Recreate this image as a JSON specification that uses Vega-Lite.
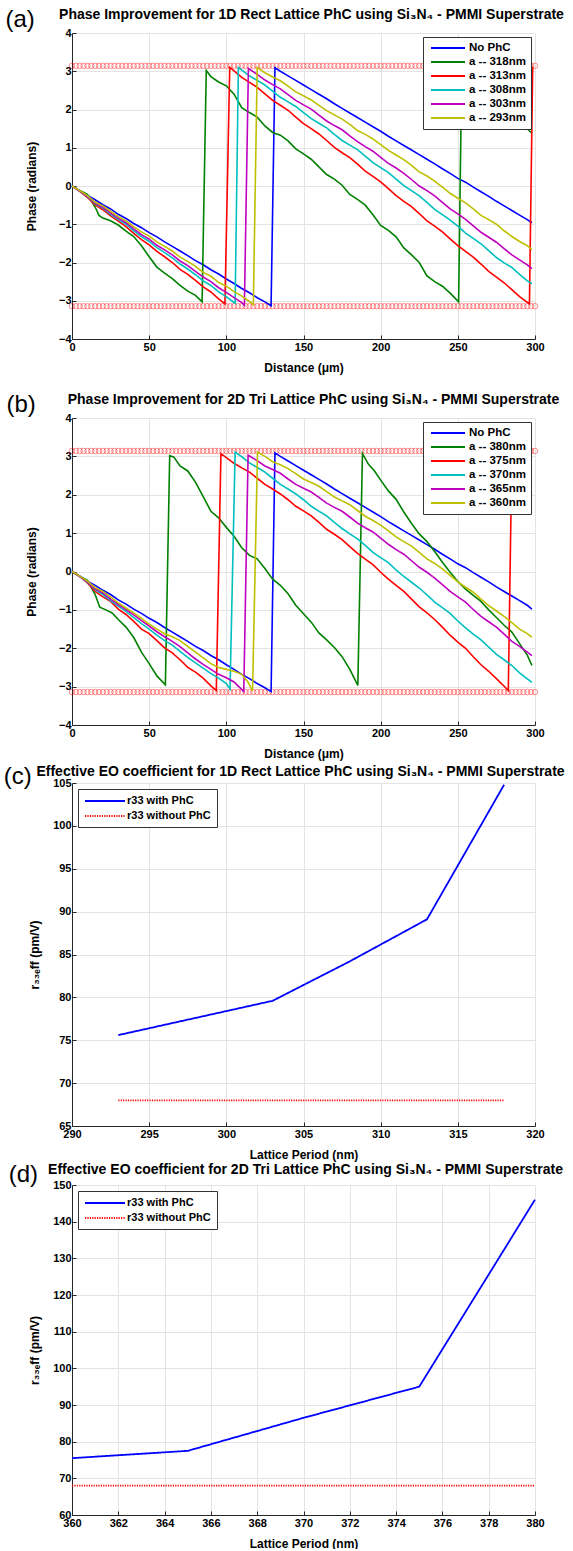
{
"$schema":"https://vega.github.io/schema/vega-lite/v6.json",
"background":"white",
"padding":{"left":3,"top":8,"right":0,"bottom":0},
"config":{
 "font":"Liberation Sans",
 "view":{"stroke":null},
 "title":{"font":"Liberation Sans","fontSize":14,"fontWeight":"bold","color":"#000000","anchor":"middle"},
 "axis":{"grid":true,"gridColor":"#e4e4e4","domainColor":"#262626","tickColor":"#262626","tickSize":-4,"labelFont":"Liberation Sans","labelFontSize":11,"labelFontWeight":"bold","labelColor":"#000000","titleFont":"Liberation Sans","titleFontSize":12,"titleFontWeight":"bold","titleColor":"#000000","labelFlush":false,"labelOverlap":false,"labelPadding":5},
 "axisX":{"titlePadding":10,"labelPadding":6},
 "legend":{"labelFont":"Liberation Sans","labelFontSize":11.5,"labelFontWeight":"bold","labelColor":"#000000","fillColor":"#ffffff","strokeColor":"#333333","cornerRadius":0,"labelLimit":300}
},
"datasets":{
"circ":[{"d":0},{"d":2.5},{"d":5},{"d":7.5},{"d":10},{"d":12.5},{"d":15},{"d":17.5},{"d":20},{"d":22.5},{"d":25},{"d":27.5},{"d":30},{"d":32.5},{"d":35},{"d":37.5},{"d":40},{"d":42.5},{"d":45},{"d":47.5},{"d":50},{"d":52.5},{"d":55},{"d":57.5},{"d":60},{"d":62.5},{"d":65},{"d":67.5},{"d":70},{"d":72.5},{"d":75},{"d":77.5},{"d":80},{"d":82.5},{"d":85},{"d":87.5},{"d":90},{"d":92.5},{"d":95},{"d":97.5},{"d":100},{"d":102.5},{"d":105},{"d":107.5},{"d":110},{"d":112.5},{"d":115},{"d":117.5},{"d":120},{"d":122.5},{"d":125},{"d":127.5},{"d":130},{"d":132.5},{"d":135},{"d":137.5},{"d":140},{"d":142.5},{"d":145},{"d":147.5},{"d":150},{"d":152.5},{"d":155},{"d":157.5},{"d":160},{"d":162.5},{"d":165},{"d":167.5},{"d":170},{"d":172.5},{"d":175},{"d":177.5},{"d":180},{"d":182.5},{"d":185},{"d":187.5},{"d":190},{"d":192.5},{"d":195},{"d":197.5},{"d":200},{"d":202.5},{"d":205},{"d":207.5},{"d":210},{"d":212.5},{"d":215},{"d":217.5},{"d":220},{"d":222.5},{"d":225},{"d":227.5},{"d":230},{"d":232.5},{"d":235},{"d":237.5},{"d":240},{"d":242.5},{"d":245},{"d":247.5},{"d":250},{"d":252.5},{"d":255},{"d":257.5},{"d":260},{"d":262.5},{"d":265},{"d":267.5},{"d":270},{"d":272.5},{"d":275},{"d":277.5},{"d":280},{"d":282.5},{"d":285},{"d":287.5},{"d":290},{"d":292.5},{"d":295},{"d":297.5},{"d":300}],
"pa":[
{"s":"No PhC","d":0,"p":0},{"s":"No PhC","d":5,"p":-0.12},{"s":"No PhC","d":10,"p":-0.25},{"s":"No PhC","d":15,"p":-0.36},{"s":"No PhC","d":20,"p":-0.49},{"s":"No PhC","d":25,"p":-0.6},{"s":"No PhC","d":30,"p":-0.74},{"s":"No PhC","d":35,"p":-0.85},{"s":"No PhC","d":40,"p":-0.98},{"s":"No PhC","d":45,"p":-1.09},{"s":"No PhC","d":50,"p":-1.22},{"s":"No PhC","d":55,"p":-1.33},{"s":"No PhC","d":60,"p":-1.46},{"s":"No PhC","d":65,"p":-1.58},{"s":"No PhC","d":70,"p":-1.7},{"s":"No PhC","d":75,"p":-1.82},{"s":"No PhC","d":80,"p":-1.95},{"s":"No PhC","d":85,"p":-2.06},{"s":"No PhC","d":90,"p":-2.19},{"s":"No PhC","d":95,"p":-2.3},{"s":"No PhC","d":100,"p":-2.43},{"s":"No PhC","d":105,"p":-2.55},{"s":"No PhC","d":110,"p":-2.68},{"s":"No PhC","d":115,"p":-2.79},{"s":"No PhC","d":120,"p":-2.92},{"s":"No PhC","d":125,"p":-3.03},{"s":"No PhC","d":129,"p":-3.13},{"s":"No PhC","d":131.5,"p":3.09},{"s":"No PhC","d":135,"p":3.0},{"s":"No PhC","d":140,"p":2.88},{"s":"No PhC","d":145,"p":2.76},{"s":"No PhC","d":150,"p":2.64},{"s":"No PhC","d":155,"p":2.52},{"s":"No PhC","d":160,"p":2.4},{"s":"No PhC","d":165,"p":2.28},{"s":"No PhC","d":170,"p":2.15},{"s":"No PhC","d":175,"p":2.03},{"s":"No PhC","d":180,"p":1.91},{"s":"No PhC","d":185,"p":1.79},{"s":"No PhC","d":190,"p":1.67},{"s":"No PhC","d":195,"p":1.55},{"s":"No PhC","d":200,"p":1.43},{"s":"No PhC","d":205,"p":1.3},{"s":"No PhC","d":210,"p":1.18},{"s":"No PhC","d":215,"p":1.06},{"s":"No PhC","d":220,"p":0.94},{"s":"No PhC","d":225,"p":0.82},{"s":"No PhC","d":230,"p":0.7},{"s":"No PhC","d":235,"p":0.58},{"s":"No PhC","d":240,"p":0.45},{"s":"No PhC","d":245,"p":0.33},{"s":"No PhC","d":250,"p":0.2},{"s":"No PhC","d":255,"p":0.1},{"s":"No PhC","d":260,"p":-0.03},{"s":"No PhC","d":265,"p":-0.15},{"s":"No PhC","d":270,"p":-0.27},{"s":"No PhC","d":275,"p":-0.4},{"s":"No PhC","d":280,"p":-0.52},{"s":"No PhC","d":285,"p":-0.64},{"s":"No PhC","d":290,"p":-0.76},{"s":"No PhC","d":295,"p":-0.88},{"s":"No PhC","d":298,"p":-0.96},
{"s":"a -- 318nm","d":0,"p":0},{"s":"a -- 318nm","d":5,"p":-0.12},{"s":"a -- 318nm","d":10,"p":-0.22},{"s":"a -- 318nm","d":15,"p":-0.55},{"s":"a -- 318nm","d":17.5,"p":-0.77},{"s":"a -- 318nm","d":20,"p":-0.84},{"s":"a -- 318nm","d":25,"p":-0.91},{"s":"a -- 318nm","d":30,"p":-1.02},{"s":"a -- 318nm","d":35,"p":-1.18},{"s":"a -- 318nm","d":40,"p":-1.32},{"s":"a -- 318nm","d":45,"p":-1.56},{"s":"a -- 318nm","d":50,"p":-1.85},{"s":"a -- 318nm","d":55,"p":-2.12},{"s":"a -- 318nm","d":60,"p":-2.28},{"s":"a -- 318nm","d":65,"p":-2.42},{"s":"a -- 318nm","d":70,"p":-2.6},{"s":"a -- 318nm","d":75,"p":-2.75},{"s":"a -- 318nm","d":80,"p":-2.86},{"s":"a -- 318nm","d":84.3,"p":-3.03},{"s":"a -- 318nm","d":87,"p":3.02},{"s":"a -- 318nm","d":90,"p":2.86},{"s":"a -- 318nm","d":95,"p":2.72},{"s":"a -- 318nm","d":100,"p":2.62},{"s":"a -- 318nm","d":105,"p":2.4},{"s":"a -- 318nm","d":110,"p":2.05},{"s":"a -- 318nm","d":115,"p":1.92},{"s":"a -- 318nm","d":120,"p":1.8},{"s":"a -- 318nm","d":125,"p":1.57},{"s":"a -- 318nm","d":130,"p":1.4},{"s":"a -- 318nm","d":135,"p":1.33},{"s":"a -- 318nm","d":140,"p":1.18},{"s":"a -- 318nm","d":145,"p":0.97},{"s":"a -- 318nm","d":150,"p":0.84},{"s":"a -- 318nm","d":155,"p":0.7},{"s":"a -- 318nm","d":160,"p":0.5},{"s":"a -- 318nm","d":165,"p":0.3},{"s":"a -- 318nm","d":170,"p":0.18},{"s":"a -- 318nm","d":175,"p":0.02},{"s":"a -- 318nm","d":180,"p":-0.22},{"s":"a -- 318nm","d":185,"p":-0.35},{"s":"a -- 318nm","d":190,"p":-0.5},{"s":"a -- 318nm","d":195,"p":-0.75},{"s":"a -- 318nm","d":200,"p":-1.03},{"s":"a -- 318nm","d":205,"p":-1.16},{"s":"a -- 318nm","d":210,"p":-1.33},{"s":"a -- 318nm","d":215,"p":-1.62},{"s":"a -- 318nm","d":220,"p":-1.8},{"s":"a -- 318nm","d":225,"p":-2.0},{"s":"a -- 318nm","d":230,"p":-2.35},{"s":"a -- 318nm","d":235,"p":-2.5},{"s":"a -- 318nm","d":240,"p":-2.62},{"s":"a -- 318nm","d":245,"p":-2.8},{"s":"a -- 318nm","d":250.5,"p":-3.03},{"s":"a -- 318nm","d":252.5,"p":3.0},{"s":"a -- 318nm","d":260,"p":2.75},{"s":"a -- 318nm","d":270,"p":2.35},{"s":"a -- 318nm","d":280,"p":2.02},{"s":"a -- 318nm","d":290,"p":1.68},{"s":"a -- 318nm","d":298,"p":1.38},
{"s":"a -- 313nm","d":0,"p":0},{"s":"a -- 313nm","d":5,"p":-0.14},{"s":"a -- 313nm","d":10,"p":-0.3},{"s":"a -- 313nm","d":15,"p":-0.49},{"s":"a -- 313nm","d":20,"p":-0.62},{"s":"a -- 313nm","d":25,"p":-0.78},{"s":"a -- 313nm","d":30,"p":-0.92},{"s":"a -- 313nm","d":35,"p":-1.06},{"s":"a -- 313nm","d":40,"p":-1.24},{"s":"a -- 313nm","d":45,"p":-1.4},{"s":"a -- 313nm","d":50,"p":-1.54},{"s":"a -- 313nm","d":55,"p":-1.71},{"s":"a -- 313nm","d":60,"p":-1.85},{"s":"a -- 313nm","d":65,"p":-2.0},{"s":"a -- 313nm","d":70,"p":-2.18},{"s":"a -- 313nm","d":75,"p":-2.31},{"s":"a -- 313nm","d":80,"p":-2.47},{"s":"a -- 313nm","d":85,"p":-2.64},{"s":"a -- 313nm","d":90,"p":-2.77},{"s":"a -- 313nm","d":95,"p":-2.95},{"s":"a -- 313nm","d":99.1,"p":-3.08},{"s":"a -- 313nm","d":102.2,"p":3.1},{"s":"a -- 313nm","d":105,"p":3.01},{"s":"a -- 313nm","d":110,"p":2.84},{"s":"a -- 313nm","d":115,"p":2.71},{"s":"a -- 313nm","d":120,"p":2.58},{"s":"a -- 313nm","d":125,"p":2.41},{"s":"a -- 313nm","d":130,"p":2.24},{"s":"a -- 313nm","d":135,"p":2.11},{"s":"a -- 313nm","d":140,"p":1.98},{"s":"a -- 313nm","d":145,"p":1.8},{"s":"a -- 313nm","d":150,"p":1.63},{"s":"a -- 313nm","d":155,"p":1.5},{"s":"a -- 313nm","d":160,"p":1.36},{"s":"a -- 313nm","d":165,"p":1.19},{"s":"a -- 313nm","d":170,"p":1.01},{"s":"a -- 313nm","d":175,"p":0.87},{"s":"a -- 313nm","d":180,"p":0.74},{"s":"a -- 313nm","d":185,"p":0.57},{"s":"a -- 313nm","d":190,"p":0.39},{"s":"a -- 313nm","d":195,"p":0.25},{"s":"a -- 313nm","d":200,"p":0.11},{"s":"a -- 313nm","d":205,"p":-0.07},{"s":"a -- 313nm","d":210,"p":-0.25},{"s":"a -- 313nm","d":215,"p":-0.4},{"s":"a -- 313nm","d":220,"p":-0.54},{"s":"a -- 313nm","d":225,"p":-0.72},{"s":"a -- 313nm","d":230,"p":-0.91},{"s":"a -- 313nm","d":235,"p":-1.05},{"s":"a -- 313nm","d":240,"p":-1.2},{"s":"a -- 313nm","d":245,"p":-1.38},{"s":"a -- 313nm","d":250,"p":-1.56},{"s":"a -- 313nm","d":255,"p":-1.71},{"s":"a -- 313nm","d":260,"p":-1.86},{"s":"a -- 313nm","d":265,"p":-2.04},{"s":"a -- 313nm","d":270,"p":-2.23},{"s":"a -- 313nm","d":275,"p":-2.38},{"s":"a -- 313nm","d":280,"p":-2.53},{"s":"a -- 313nm","d":285,"p":-2.71},{"s":"a -- 313nm","d":290,"p":-2.89},{"s":"a -- 313nm","d":296.4,"p":-3.08},{"s":"a -- 313nm","d":298.5,"p":3.12},
{"s":"a -- 308nm","d":0,"p":0},{"s":"a -- 308nm","d":5,"p":-0.13},{"s":"a -- 308nm","d":10,"p":-0.28},{"s":"a -- 308nm","d":15,"p":-0.46},{"s":"a -- 308nm","d":20,"p":-0.58},{"s":"a -- 308nm","d":25,"p":-0.74},{"s":"a -- 308nm","d":30,"p":-0.87},{"s":"a -- 308nm","d":35,"p":-1.0},{"s":"a -- 308nm","d":40,"p":-1.17},{"s":"a -- 308nm","d":45,"p":-1.32},{"s":"a -- 308nm","d":50,"p":-1.45},{"s":"a -- 308nm","d":55,"p":-1.61},{"s":"a -- 308nm","d":60,"p":-1.74},{"s":"a -- 308nm","d":65,"p":-1.88},{"s":"a -- 308nm","d":70,"p":-2.04},{"s":"a -- 308nm","d":75,"p":-2.17},{"s":"a -- 308nm","d":80,"p":-2.32},{"s":"a -- 308nm","d":85,"p":-2.48},{"s":"a -- 308nm","d":90,"p":-2.6},{"s":"a -- 308nm","d":95,"p":-2.77},{"s":"a -- 308nm","d":100,"p":-2.89},{"s":"a -- 308nm","d":105.7,"p":-3.07},{"s":"a -- 308nm","d":107.8,"p":3.1},{"s":"a -- 308nm","d":110,"p":3.03},{"s":"a -- 308nm","d":115,"p":2.88},{"s":"a -- 308nm","d":120,"p":2.76},{"s":"a -- 308nm","d":125,"p":2.64},{"s":"a -- 308nm","d":130,"p":2.48},{"s":"a -- 308nm","d":135,"p":2.32},{"s":"a -- 308nm","d":140,"p":2.2},{"s":"a -- 308nm","d":145,"p":2.08},{"s":"a -- 308nm","d":150,"p":1.92},{"s":"a -- 308nm","d":155,"p":1.76},{"s":"a -- 308nm","d":160,"p":1.64},{"s":"a -- 308nm","d":165,"p":1.52},{"s":"a -- 308nm","d":170,"p":1.35},{"s":"a -- 308nm","d":175,"p":1.19},{"s":"a -- 308nm","d":180,"p":1.07},{"s":"a -- 308nm","d":185,"p":0.95},{"s":"a -- 308nm","d":190,"p":0.78},{"s":"a -- 308nm","d":195,"p":0.61},{"s":"a -- 308nm","d":200,"p":0.48},{"s":"a -- 308nm","d":205,"p":0.35},{"s":"a -- 308nm","d":210,"p":0.18},{"s":"a -- 308nm","d":215,"p":0.01},{"s":"a -- 308nm","d":220,"p":-0.12},{"s":"a -- 308nm","d":225,"p":-0.26},{"s":"a -- 308nm","d":230,"p":-0.43},{"s":"a -- 308nm","d":235,"p":-0.61},{"s":"a -- 308nm","d":240,"p":-0.75},{"s":"a -- 308nm","d":245,"p":-0.89},{"s":"a -- 308nm","d":250,"p":-1.05},{"s":"a -- 308nm","d":255,"p":-1.23},{"s":"a -- 308nm","d":260,"p":-1.37},{"s":"a -- 308nm","d":265,"p":-1.51},{"s":"a -- 308nm","d":270,"p":-1.69},{"s":"a -- 308nm","d":275,"p":-1.87},{"s":"a -- 308nm","d":280,"p":-2.01},{"s":"a -- 308nm","d":285,"p":-2.13},{"s":"a -- 308nm","d":290,"p":-2.31},{"s":"a -- 308nm","d":295,"p":-2.48},{"s":"a -- 308nm","d":298,"p":-2.55},
{"s":"a -- 303nm","d":0,"p":0},{"s":"a -- 303nm","d":5,"p":-0.13},{"s":"a -- 303nm","d":10,"p":-0.27},{"s":"a -- 303nm","d":15,"p":-0.44},{"s":"a -- 303nm","d":20,"p":-0.56},{"s":"a -- 303nm","d":25,"p":-0.71},{"s":"a -- 303nm","d":30,"p":-0.84},{"s":"a -- 303nm","d":35,"p":-0.96},{"s":"a -- 303nm","d":40,"p":-1.12},{"s":"a -- 303nm","d":45,"p":-1.27},{"s":"a -- 303nm","d":50,"p":-1.39},{"s":"a -- 303nm","d":55,"p":-1.55},{"s":"a -- 303nm","d":60,"p":-1.67},{"s":"a -- 303nm","d":65,"p":-1.8},{"s":"a -- 303nm","d":70,"p":-1.96},{"s":"a -- 303nm","d":75,"p":-2.08},{"s":"a -- 303nm","d":80,"p":-2.23},{"s":"a -- 303nm","d":85,"p":-2.38},{"s":"a -- 303nm","d":90,"p":-2.5},{"s":"a -- 303nm","d":95,"p":-2.66},{"s":"a -- 303nm","d":100,"p":-2.78},{"s":"a -- 303nm","d":105,"p":-2.92},{"s":"a -- 303nm","d":110,"p":-3.05},{"s":"a -- 303nm","d":111.7,"p":-3.12},{"s":"a -- 303nm","d":114.3,"p":3.07},{"s":"a -- 303nm","d":120,"p":2.92},{"s":"a -- 303nm","d":125,"p":2.77},{"s":"a -- 303nm","d":130,"p":2.65},{"s":"a -- 303nm","d":135,"p":2.54},{"s":"a -- 303nm","d":140,"p":2.39},{"s":"a -- 303nm","d":145,"p":2.24},{"s":"a -- 303nm","d":150,"p":2.12},{"s":"a -- 303nm","d":155,"p":2.01},{"s":"a -- 303nm","d":160,"p":1.85},{"s":"a -- 303nm","d":165,"p":1.7},{"s":"a -- 303nm","d":170,"p":1.58},{"s":"a -- 303nm","d":175,"p":1.47},{"s":"a -- 303nm","d":180,"p":1.31},{"s":"a -- 303nm","d":185,"p":1.16},{"s":"a -- 303nm","d":190,"p":1.03},{"s":"a -- 303nm","d":195,"p":0.91},{"s":"a -- 303nm","d":200,"p":0.75},{"s":"a -- 303nm","d":205,"p":0.59},{"s":"a -- 303nm","d":210,"p":0.47},{"s":"a -- 303nm","d":215,"p":0.33},{"s":"a -- 303nm","d":220,"p":0.17},{"s":"a -- 303nm","d":225,"p":0.0},{"s":"a -- 303nm","d":230,"p":-0.12},{"s":"a -- 303nm","d":235,"p":-0.26},{"s":"a -- 303nm","d":240,"p":-0.43},{"s":"a -- 303nm","d":245,"p":-0.6},{"s":"a -- 303nm","d":250,"p":-0.73},{"s":"a -- 303nm","d":255,"p":-0.87},{"s":"a -- 303nm","d":260,"p":-1.04},{"s":"a -- 303nm","d":265,"p":-1.21},{"s":"a -- 303nm","d":270,"p":-1.34},{"s":"a -- 303nm","d":275,"p":-1.47},{"s":"a -- 303nm","d":280,"p":-1.64},{"s":"a -- 303nm","d":285,"p":-1.8},{"s":"a -- 303nm","d":290,"p":-1.93},{"s":"a -- 303nm","d":295,"p":-2.06},{"s":"a -- 303nm","d":298,"p":-2.16},
{"s":"a -- 293nm","d":0,"p":0},{"s":"a -- 293nm","d":5,"p":-0.12},{"s":"a -- 293nm","d":10,"p":-0.25},{"s":"a -- 293nm","d":15,"p":-0.42},{"s":"a -- 293nm","d":20,"p":-0.52},{"s":"a -- 293nm","d":25,"p":-0.66},{"s":"a -- 293nm","d":30,"p":-0.8},{"s":"a -- 293nm","d":35,"p":-0.91},{"s":"a -- 293nm","d":40,"p":-1.06},{"s":"a -- 293nm","d":45,"p":-1.2},{"s":"a -- 293nm","d":50,"p":-1.31},{"s":"a -- 293nm","d":55,"p":-1.46},{"s":"a -- 293nm","d":60,"p":-1.58},{"s":"a -- 293nm","d":65,"p":-1.7},{"s":"a -- 293nm","d":70,"p":-1.86},{"s":"a -- 293nm","d":75,"p":-1.97},{"s":"a -- 293nm","d":80,"p":-2.1},{"s":"a -- 293nm","d":85,"p":-2.26},{"s":"a -- 293nm","d":90,"p":-2.36},{"s":"a -- 293nm","d":95,"p":-2.52},{"s":"a -- 293nm","d":100,"p":-2.62},{"s":"a -- 293nm","d":105,"p":-2.76},{"s":"a -- 293nm","d":110,"p":-2.88},{"s":"a -- 293nm","d":115,"p":-3.02},{"s":"a -- 293nm","d":117.5,"p":-3.1},{"s":"a -- 293nm","d":120,"p":3.1},{"s":"a -- 293nm","d":125,"p":2.96},{"s":"a -- 293nm","d":130,"p":2.85},{"s":"a -- 293nm","d":135,"p":2.75},{"s":"a -- 293nm","d":140,"p":2.61},{"s":"a -- 293nm","d":145,"p":2.46},{"s":"a -- 293nm","d":150,"p":2.36},{"s":"a -- 293nm","d":155,"p":2.25},{"s":"a -- 293nm","d":160,"p":2.11},{"s":"a -- 293nm","d":165,"p":1.97},{"s":"a -- 293nm","d":170,"p":1.86},{"s":"a -- 293nm","d":175,"p":1.75},{"s":"a -- 293nm","d":180,"p":1.61},{"s":"a -- 293nm","d":185,"p":1.45},{"s":"a -- 293nm","d":190,"p":1.35},{"s":"a -- 293nm","d":195,"p":1.23},{"s":"a -- 293nm","d":200,"p":1.08},{"s":"a -- 293nm","d":205,"p":0.93},{"s":"a -- 293nm","d":210,"p":0.81},{"s":"a -- 293nm","d":215,"p":0.69},{"s":"a -- 293nm","d":220,"p":0.54},{"s":"a -- 293nm","d":225,"p":0.37},{"s":"a -- 293nm","d":230,"p":0.26},{"s":"a -- 293nm","d":235,"p":0.13},{"s":"a -- 293nm","d":240,"p":-0.03},{"s":"a -- 293nm","d":245,"p":-0.19},{"s":"a -- 293nm","d":250,"p":-0.32},{"s":"a -- 293nm","d":255,"p":-0.44},{"s":"a -- 293nm","d":260,"p":-0.6},{"s":"a -- 293nm","d":265,"p":-0.77},{"s":"a -- 293nm","d":270,"p":-0.88},{"s":"a -- 293nm","d":275,"p":-1.0},{"s":"a -- 293nm","d":280,"p":-1.17},{"s":"a -- 293nm","d":285,"p":-1.32},{"s":"a -- 293nm","d":290,"p":-1.45},{"s":"a -- 293nm","d":295,"p":-1.56},{"s":"a -- 293nm","d":298,"p":-1.66}
],
"pb":[
{"s":"No PhC","d":0,"p":0},{"s":"No PhC","d":5,"p":-0.12},{"s":"No PhC","d":10,"p":-0.25},{"s":"No PhC","d":15,"p":-0.36},{"s":"No PhC","d":20,"p":-0.49},{"s":"No PhC","d":25,"p":-0.6},{"s":"No PhC","d":30,"p":-0.74},{"s":"No PhC","d":35,"p":-0.85},{"s":"No PhC","d":40,"p":-0.98},{"s":"No PhC","d":45,"p":-1.09},{"s":"No PhC","d":50,"p":-1.22},{"s":"No PhC","d":55,"p":-1.33},{"s":"No PhC","d":60,"p":-1.46},{"s":"No PhC","d":65,"p":-1.58},{"s":"No PhC","d":70,"p":-1.7},{"s":"No PhC","d":75,"p":-1.82},{"s":"No PhC","d":80,"p":-1.95},{"s":"No PhC","d":85,"p":-2.06},{"s":"No PhC","d":90,"p":-2.19},{"s":"No PhC","d":95,"p":-2.3},{"s":"No PhC","d":100,"p":-2.43},{"s":"No PhC","d":105,"p":-2.55},{"s":"No PhC","d":110,"p":-2.68},{"s":"No PhC","d":115,"p":-2.79},{"s":"No PhC","d":120,"p":-2.92},{"s":"No PhC","d":125,"p":-3.03},{"s":"No PhC","d":129,"p":-3.13},{"s":"No PhC","d":131.5,"p":3.09},{"s":"No PhC","d":135,"p":3.0},{"s":"No PhC","d":140,"p":2.88},{"s":"No PhC","d":145,"p":2.76},{"s":"No PhC","d":150,"p":2.64},{"s":"No PhC","d":155,"p":2.52},{"s":"No PhC","d":160,"p":2.4},{"s":"No PhC","d":165,"p":2.28},{"s":"No PhC","d":170,"p":2.15},{"s":"No PhC","d":175,"p":2.03},{"s":"No PhC","d":180,"p":1.91},{"s":"No PhC","d":185,"p":1.79},{"s":"No PhC","d":190,"p":1.67},{"s":"No PhC","d":195,"p":1.55},{"s":"No PhC","d":200,"p":1.43},{"s":"No PhC","d":205,"p":1.3},{"s":"No PhC","d":210,"p":1.18},{"s":"No PhC","d":215,"p":1.06},{"s":"No PhC","d":220,"p":0.94},{"s":"No PhC","d":225,"p":0.82},{"s":"No PhC","d":230,"p":0.7},{"s":"No PhC","d":235,"p":0.58},{"s":"No PhC","d":240,"p":0.45},{"s":"No PhC","d":245,"p":0.33},{"s":"No PhC","d":250,"p":0.2},{"s":"No PhC","d":255,"p":0.1},{"s":"No PhC","d":260,"p":-0.03},{"s":"No PhC","d":265,"p":-0.15},{"s":"No PhC","d":270,"p":-0.27},{"s":"No PhC","d":275,"p":-0.4},{"s":"No PhC","d":280,"p":-0.52},{"s":"No PhC","d":285,"p":-0.64},{"s":"No PhC","d":290,"p":-0.76},{"s":"No PhC","d":295,"p":-0.88},{"s":"No PhC","d":298,"p":-0.98},
{"s":"a -- 380nm","d":0,"p":0},{"s":"a -- 380nm","d":5,"p":-0.12},{"s":"a -- 380nm","d":10,"p":-0.23},{"s":"a -- 380nm","d":15,"p":-0.6},{"s":"a -- 380nm","d":18,"p":-0.93},{"s":"a -- 380nm","d":22,"p":-1.0},{"s":"a -- 380nm","d":26,"p":-1.08},{"s":"a -- 380nm","d":30,"p":-1.25},{"s":"a -- 380nm","d":35,"p":-1.45},{"s":"a -- 380nm","d":40,"p":-1.72},{"s":"a -- 380nm","d":45,"p":-2.1},{"s":"a -- 380nm","d":50,"p":-2.4},{"s":"a -- 380nm","d":55,"p":-2.72},{"s":"a -- 380nm","d":60.5,"p":-2.95},{"s":"a -- 380nm","d":63.3,"p":3.02},{"s":"a -- 380nm","d":66,"p":2.98},{"s":"a -- 380nm","d":70,"p":2.75},{"s":"a -- 380nm","d":75,"p":2.62},{"s":"a -- 380nm","d":80,"p":2.33},{"s":"a -- 380nm","d":85,"p":1.95},{"s":"a -- 380nm","d":90,"p":1.57},{"s":"a -- 380nm","d":95,"p":1.4},{"s":"a -- 380nm","d":100,"p":1.15},{"s":"a -- 380nm","d":105,"p":0.92},{"s":"a -- 380nm","d":110,"p":0.62},{"s":"a -- 380nm","d":115,"p":0.42},{"s":"a -- 380nm","d":120,"p":0.33},{"s":"a -- 380nm","d":125,"p":0.08},{"s":"a -- 380nm","d":130,"p":-0.2},{"s":"a -- 380nm","d":135,"p":-0.36},{"s":"a -- 380nm","d":140,"p":-0.58},{"s":"a -- 380nm","d":145,"p":-0.88},{"s":"a -- 380nm","d":150,"p":-1.1},{"s":"a -- 380nm","d":155,"p":-1.32},{"s":"a -- 380nm","d":160,"p":-1.6},{"s":"a -- 380nm","d":165,"p":-1.78},{"s":"a -- 380nm","d":170,"p":-1.98},{"s":"a -- 380nm","d":175,"p":-2.22},{"s":"a -- 380nm","d":180,"p":-2.55},{"s":"a -- 380nm","d":185.2,"p":-2.97},{"s":"a -- 380nm","d":188.2,"p":3.07},{"s":"a -- 380nm","d":192,"p":2.8},{"s":"a -- 380nm","d":196,"p":2.62},{"s":"a -- 380nm","d":200,"p":2.38},{"s":"a -- 380nm","d":205,"p":2.1},{"s":"a -- 380nm","d":210,"p":1.88},{"s":"a -- 380nm","d":215,"p":1.55},{"s":"a -- 380nm","d":220,"p":1.25},{"s":"a -- 380nm","d":225,"p":0.98},{"s":"a -- 380nm","d":230,"p":0.78},{"s":"a -- 380nm","d":235,"p":0.52},{"s":"a -- 380nm","d":240,"p":0.24},{"s":"a -- 380nm","d":245,"p":-0.02},{"s":"a -- 380nm","d":250,"p":-0.26},{"s":"a -- 380nm","d":255,"p":-0.46},{"s":"a -- 380nm","d":260,"p":-0.62},{"s":"a -- 380nm","d":265,"p":-0.78},{"s":"a -- 380nm","d":270,"p":-1.0},{"s":"a -- 380nm","d":275,"p":-1.2},{"s":"a -- 380nm","d":280,"p":-1.4},{"s":"a -- 380nm","d":285,"p":-1.58},{"s":"a -- 380nm","d":290,"p":-1.88},{"s":"a -- 380nm","d":295,"p":-2.18},{"s":"a -- 380nm","d":298,"p":-2.45},
{"s":"a -- 375nm","d":0,"p":0},{"s":"a -- 375nm","d":5,"p":-0.13},{"s":"a -- 375nm","d":10,"p":-0.3},{"s":"a -- 375nm","d":15,"p":-0.52},{"s":"a -- 375nm","d":20,"p":-0.66},{"s":"a -- 375nm","d":25,"p":-0.78},{"s":"a -- 375nm","d":30,"p":-0.98},{"s":"a -- 375nm","d":35,"p":-1.12},{"s":"a -- 375nm","d":40,"p":-1.3},{"s":"a -- 375nm","d":45,"p":-1.5},{"s":"a -- 375nm","d":50,"p":-1.62},{"s":"a -- 375nm","d":55,"p":-1.8},{"s":"a -- 375nm","d":60,"p":-1.99},{"s":"a -- 375nm","d":65,"p":-2.12},{"s":"a -- 375nm","d":70,"p":-2.3},{"s":"a -- 375nm","d":75,"p":-2.5},{"s":"a -- 375nm","d":80,"p":-2.62},{"s":"a -- 375nm","d":85,"p":-2.78},{"s":"a -- 375nm","d":90,"p":-2.98},{"s":"a -- 375nm","d":93.5,"p":-3.1},{"s":"a -- 375nm","d":96.5,"p":3.07},{"s":"a -- 375nm","d":100,"p":2.97},{"s":"a -- 375nm","d":105,"p":2.82},{"s":"a -- 375nm","d":110,"p":2.7},{"s":"a -- 375nm","d":115,"p":2.59},{"s":"a -- 375nm","d":120,"p":2.43},{"s":"a -- 375nm","d":125,"p":2.27},{"s":"a -- 375nm","d":130,"p":2.15},{"s":"a -- 375nm","d":135,"p":2.02},{"s":"a -- 375nm","d":140,"p":1.87},{"s":"a -- 375nm","d":145,"p":1.7},{"s":"a -- 375nm","d":150,"p":1.58},{"s":"a -- 375nm","d":155,"p":1.45},{"s":"a -- 375nm","d":160,"p":1.28},{"s":"a -- 375nm","d":165,"p":1.1},{"s":"a -- 375nm","d":170,"p":0.97},{"s":"a -- 375nm","d":175,"p":0.83},{"s":"a -- 375nm","d":180,"p":0.65},{"s":"a -- 375nm","d":185,"p":0.47},{"s":"a -- 375nm","d":190,"p":0.32},{"s":"a -- 375nm","d":195,"p":0.18},{"s":"a -- 375nm","d":200,"p":-0.02},{"s":"a -- 375nm","d":205,"p":-0.2},{"s":"a -- 375nm","d":210,"p":-0.36},{"s":"a -- 375nm","d":215,"p":-0.52},{"s":"a -- 375nm","d":220,"p":-0.72},{"s":"a -- 375nm","d":225,"p":-0.92},{"s":"a -- 375nm","d":230,"p":-1.08},{"s":"a -- 375nm","d":235,"p":-1.25},{"s":"a -- 375nm","d":240,"p":-1.45},{"s":"a -- 375nm","d":245,"p":-1.66},{"s":"a -- 375nm","d":250,"p":-1.84},{"s":"a -- 375nm","d":255,"p":-2.0},{"s":"a -- 375nm","d":260,"p":-2.22},{"s":"a -- 375nm","d":265,"p":-2.43},{"s":"a -- 375nm","d":270,"p":-2.6},{"s":"a -- 375nm","d":275,"p":-2.79},{"s":"a -- 375nm","d":280,"p":-2.99},{"s":"a -- 375nm","d":282.7,"p":-3.1},{"s":"a -- 375nm","d":285,"p":3.06},{"s":"a -- 375nm","d":290,"p":2.9},{"s":"a -- 375nm","d":295,"p":2.76},{"s":"a -- 375nm","d":298,"p":2.66},
{"s":"a -- 370nm","d":0,"p":0},{"s":"a -- 370nm","d":5,"p":-0.13},{"s":"a -- 370nm","d":10,"p":-0.28},{"s":"a -- 370nm","d":15,"p":-0.47},{"s":"a -- 370nm","d":20,"p":-0.6},{"s":"a -- 370nm","d":25,"p":-0.76},{"s":"a -- 370nm","d":30,"p":-0.9},{"s":"a -- 370nm","d":35,"p":-1.04},{"s":"a -- 370nm","d":40,"p":-1.2},{"s":"a -- 370nm","d":45,"p":-1.36},{"s":"a -- 370nm","d":50,"p":-1.5},{"s":"a -- 370nm","d":55,"p":-1.66},{"s":"a -- 370nm","d":60,"p":-1.8},{"s":"a -- 370nm","d":65,"p":-1.92},{"s":"a -- 370nm","d":70,"p":-2.08},{"s":"a -- 370nm","d":75,"p":-2.24},{"s":"a -- 370nm","d":80,"p":-2.38},{"s":"a -- 370nm","d":85,"p":-2.52},{"s":"a -- 370nm","d":90,"p":-2.66},{"s":"a -- 370nm","d":95,"p":-2.78},{"s":"a -- 370nm","d":100,"p":-2.92},{"s":"a -- 370nm","d":102.4,"p":-3.06},{"s":"a -- 370nm","d":105.7,"p":3.11},{"s":"a -- 370nm","d":110,"p":2.99},{"s":"a -- 370nm","d":115,"p":2.83},{"s":"a -- 370nm","d":120,"p":2.71},{"s":"a -- 370nm","d":125,"p":2.59},{"s":"a -- 370nm","d":130,"p":2.43},{"s":"a -- 370nm","d":135,"p":2.27},{"s":"a -- 370nm","d":140,"p":2.15},{"s":"a -- 370nm","d":145,"p":2.02},{"s":"a -- 370nm","d":150,"p":1.87},{"s":"a -- 370nm","d":155,"p":1.7},{"s":"a -- 370nm","d":160,"p":1.57},{"s":"a -- 370nm","d":165,"p":1.45},{"s":"a -- 370nm","d":170,"p":1.28},{"s":"a -- 370nm","d":175,"p":1.12},{"s":"a -- 370nm","d":180,"p":0.98},{"s":"a -- 370nm","d":185,"p":0.85},{"s":"a -- 370nm","d":190,"p":0.68},{"s":"a -- 370nm","d":195,"p":0.5},{"s":"a -- 370nm","d":200,"p":0.36},{"s":"a -- 370nm","d":205,"p":0.23},{"s":"a -- 370nm","d":210,"p":0.04},{"s":"a -- 370nm","d":215,"p":-0.13},{"s":"a -- 370nm","d":220,"p":-0.28},{"s":"a -- 370nm","d":225,"p":-0.43},{"s":"a -- 370nm","d":230,"p":-0.61},{"s":"a -- 370nm","d":235,"p":-0.8},{"s":"a -- 370nm","d":240,"p":-0.94},{"s":"a -- 370nm","d":245,"p":-1.09},{"s":"a -- 370nm","d":250,"p":-1.29},{"s":"a -- 370nm","d":255,"p":-1.47},{"s":"a -- 370nm","d":260,"p":-1.63},{"s":"a -- 370nm","d":265,"p":-1.78},{"s":"a -- 370nm","d":270,"p":-1.97},{"s":"a -- 370nm","d":275,"p":-2.16},{"s":"a -- 370nm","d":280,"p":-2.3},{"s":"a -- 370nm","d":285,"p":-2.45},{"s":"a -- 370nm","d":290,"p":-2.64},{"s":"a -- 370nm","d":295,"p":-2.8},{"s":"a -- 370nm","d":298,"p":-2.89},
{"s":"a -- 365nm","d":0,"p":0},{"s":"a -- 365nm","d":5,"p":-0.13},{"s":"a -- 365nm","d":10,"p":-0.27},{"s":"a -- 365nm","d":15,"p":-0.45},{"s":"a -- 365nm","d":20,"p":-0.56},{"s":"a -- 365nm","d":25,"p":-0.72},{"s":"a -- 365nm","d":30,"p":-0.86},{"s":"a -- 365nm","d":35,"p":-0.99},{"s":"a -- 365nm","d":40,"p":-1.13},{"s":"a -- 365nm","d":45,"p":-1.28},{"s":"a -- 365nm","d":50,"p":-1.42},{"s":"a -- 365nm","d":55,"p":-1.57},{"s":"a -- 365nm","d":60,"p":-1.7},{"s":"a -- 365nm","d":65,"p":-1.82},{"s":"a -- 365nm","d":70,"p":-1.96},{"s":"a -- 365nm","d":75,"p":-2.12},{"s":"a -- 365nm","d":80,"p":-2.28},{"s":"a -- 365nm","d":85,"p":-2.42},{"s":"a -- 365nm","d":90,"p":-2.55},{"s":"a -- 365nm","d":95,"p":-2.68},{"s":"a -- 365nm","d":100,"p":-2.77},{"s":"a -- 365nm","d":105,"p":-2.88},{"s":"a -- 365nm","d":111.3,"p":-3.13},{"s":"a -- 365nm","d":114.1,"p":3.03},{"s":"a -- 365nm","d":120,"p":2.89},{"s":"a -- 365nm","d":125,"p":2.75},{"s":"a -- 365nm","d":130,"p":2.66},{"s":"a -- 365nm","d":135,"p":2.56},{"s":"a -- 365nm","d":140,"p":2.41},{"s":"a -- 365nm","d":145,"p":2.27},{"s":"a -- 365nm","d":150,"p":2.17},{"s":"a -- 365nm","d":155,"p":2.07},{"s":"a -- 365nm","d":160,"p":1.93},{"s":"a -- 365nm","d":165,"p":1.78},{"s":"a -- 365nm","d":170,"p":1.67},{"s":"a -- 365nm","d":175,"p":1.57},{"s":"a -- 365nm","d":180,"p":1.42},{"s":"a -- 365nm","d":185,"p":1.26},{"s":"a -- 365nm","d":190,"p":1.14},{"s":"a -- 365nm","d":195,"p":1.03},{"s":"a -- 365nm","d":200,"p":0.87},{"s":"a -- 365nm","d":205,"p":0.71},{"s":"a -- 365nm","d":210,"p":0.57},{"s":"a -- 365nm","d":215,"p":0.45},{"s":"a -- 365nm","d":220,"p":0.28},{"s":"a -- 365nm","d":225,"p":0.11},{"s":"a -- 365nm","d":230,"p":-0.02},{"s":"a -- 365nm","d":235,"p":-0.17},{"s":"a -- 365nm","d":240,"p":-0.34},{"s":"a -- 365nm","d":245,"p":-0.52},{"s":"a -- 365nm","d":250,"p":-0.66},{"s":"a -- 365nm","d":255,"p":-0.8},{"s":"a -- 365nm","d":260,"p":-0.99},{"s":"a -- 365nm","d":265,"p":-1.17},{"s":"a -- 365nm","d":270,"p":-1.31},{"s":"a -- 365nm","d":275,"p":-1.45},{"s":"a -- 365nm","d":280,"p":-1.63},{"s":"a -- 365nm","d":285,"p":-1.82},{"s":"a -- 365nm","d":290,"p":-1.95},{"s":"a -- 365nm","d":295,"p":-2.1},{"s":"a -- 365nm","d":298,"p":-2.19},
{"s":"a -- 360nm","d":0,"p":0},{"s":"a -- 360nm","d":5,"p":-0.12},{"s":"a -- 360nm","d":10,"p":-0.25},{"s":"a -- 360nm","d":15,"p":-0.42},{"s":"a -- 360nm","d":20,"p":-0.52},{"s":"a -- 360nm","d":25,"p":-0.66},{"s":"a -- 360nm","d":30,"p":-0.82},{"s":"a -- 360nm","d":35,"p":-0.95},{"s":"a -- 360nm","d":40,"p":-1.08},{"s":"a -- 360nm","d":45,"p":-1.22},{"s":"a -- 360nm","d":50,"p":-1.37},{"s":"a -- 360nm","d":55,"p":-1.5},{"s":"a -- 360nm","d":60,"p":-1.62},{"s":"a -- 360nm","d":65,"p":-1.7},{"s":"a -- 360nm","d":70,"p":-1.8},{"s":"a -- 360nm","d":75,"p":-1.95},{"s":"a -- 360nm","d":80,"p":-2.1},{"s":"a -- 360nm","d":85,"p":-2.25},{"s":"a -- 360nm","d":90,"p":-2.4},{"s":"a -- 360nm","d":95,"p":-2.5},{"s":"a -- 360nm","d":100,"p":-2.55},{"s":"a -- 360nm","d":105,"p":-2.6},{"s":"a -- 360nm","d":110,"p":-2.68},{"s":"a -- 360nm","d":114,"p":-2.88},{"s":"a -- 360nm","d":117,"p":-3.11},{"s":"a -- 360nm","d":120.2,"p":3.11},{"s":"a -- 360nm","d":125,"p":3.0},{"s":"a -- 360nm","d":130,"p":2.86},{"s":"a -- 360nm","d":135,"p":2.78},{"s":"a -- 360nm","d":140,"p":2.68},{"s":"a -- 360nm","d":145,"p":2.55},{"s":"a -- 360nm","d":150,"p":2.41},{"s":"a -- 360nm","d":155,"p":2.32},{"s":"a -- 360nm","d":160,"p":2.22},{"s":"a -- 360nm","d":165,"p":2.08},{"s":"a -- 360nm","d":170,"p":1.94},{"s":"a -- 360nm","d":175,"p":1.84},{"s":"a -- 360nm","d":180,"p":1.74},{"s":"a -- 360nm","d":185,"p":1.59},{"s":"a -- 360nm","d":190,"p":1.44},{"s":"a -- 360nm","d":195,"p":1.33},{"s":"a -- 360nm","d":200,"p":1.21},{"s":"a -- 360nm","d":205,"p":1.06},{"s":"a -- 360nm","d":210,"p":0.9},{"s":"a -- 360nm","d":215,"p":0.78},{"s":"a -- 360nm","d":220,"p":0.66},{"s":"a -- 360nm","d":225,"p":0.5},{"s":"a -- 360nm","d":230,"p":0.33},{"s":"a -- 360nm","d":235,"p":0.21},{"s":"a -- 360nm","d":240,"p":0.07},{"s":"a -- 360nm","d":245,"p":-0.1},{"s":"a -- 360nm","d":250,"p":-0.27},{"s":"a -- 360nm","d":255,"p":-0.41},{"s":"a -- 360nm","d":260,"p":-0.54},{"s":"a -- 360nm","d":265,"p":-0.72},{"s":"a -- 360nm","d":270,"p":-0.89},{"s":"a -- 360nm","d":275,"p":-1.03},{"s":"a -- 360nm","d":280,"p":-1.17},{"s":"a -- 360nm","d":285,"p":-1.33},{"s":"a -- 360nm","d":290,"p":-1.5},{"s":"a -- 360nm","d":295,"p":-1.62},{"s":"a -- 360nm","d":298,"p":-1.71}
],
"pc":[
{"s":"r33 with PhC","lp":293,"r":75.6},{"s":"r33 with PhC","lp":303,"r":79.6},{"s":"r33 with PhC","lp":308,"r":84.2},{"s":"r33 with PhC","lp":313,"r":89.1},{"s":"r33 with PhC","lp":318,"r":104.8},
{"s":"r33 without PhC","lp":293,"r":68},{"s":"r33 without PhC","lp":318,"r":68}
],
"pd":[
{"s":"r33 with PhC","lp":360,"r":75.5},{"s":"r33 with PhC","lp":365,"r":77.5},{"s":"r33 with PhC","lp":370,"r":86.5},{"s":"r33 with PhC","lp":375,"r":95},{"s":"r33 with PhC","lp":380,"r":146},
{"s":"r33 without PhC","lp":360,"r":68},{"s":"r33 without PhC","lp":380,"r":68}
]
},
"resolve":{"scale":{"color":"independent","strokeDash":"independent","x":"independent","y":"independent"},"legend":{"color":"independent","strokeDash":"independent"}},
"spacing":20,
"vconcat":[
{
 "title":{"text":"(a)","anchor":"start","frame":"bounds","fontSize":24,"fontWeight":"normal","offset":-24,"dx":-20},
 "resolve":{"scale":{"color":"independent","strokeDash":"independent"},"legend":{"color":"independent","strokeDash":"independent"}},
 "vconcat":[{
  "title":{"text":"Phase Improvement for 1D Rect Lattice PhC using Si₃N₄ - PMMI Superstrate","offset":5,"dx":8},
  "width":463,"height":306,
  "layer":[
   {"data":{"name":"circ"},"mark":{"type":"point","shape":"circle","size":30,"filled":false,"color":"#ff0000","strokeWidth":0.8,"opacity":0.55},
    "encoding":{"x":{"field":"d","type":"quantitative","scale":{"domain":[0,300]},"title":"Distance (μm)","axis":{"values":[0,50,100,150,200,250,300]}},"y":{"datum":3.1416,"type":"quantitative","scale":{"domain":[-4,4]},"title":"Phase (radians)","axis":{"values":[-4,-3,-2,-1,0,1,2,3,4],"titlePadding":20}}}},
   {"data":{"name":"circ"},"mark":{"type":"point","shape":"circle","size":30,"filled":false,"color":"#ff0000","strokeWidth":0.8,"opacity":0.55},
    "encoding":{"x":{"field":"d","type":"quantitative","title":"Distance (μm)","axis":{"values":[0,50,100,150,200,250,300]}},"y":{"datum":-3.1416,"type":"quantitative","title":"Phase (radians)","axis":{"values":[-4,-3,-2,-1,0,1,2,3,4],"titlePadding":20}}}},
   {"data":{"name":"pa"},"mark":{"type":"line","strokeWidth":1.6},
    "encoding":{
     "x":{"field":"d","type":"quantitative","title":"Distance (μm)","axis":{"values":[0,50,100,150,200,250,300]}},
     "y":{"field":"p","type":"quantitative","title":"Phase (radians)","axis":{"values":[-4,-3,-2,-1,0,1,2,3,4],"titlePadding":20}},
     "color":{"field":"s","type":"nominal","scale":{"domain":["No PhC","a -- 318nm","a -- 313nm","a -- 308nm","a -- 303nm","a -- 293nm"],"range":["#0000ff","#008000","#ff0000","#00bfbf","#bf00bf","#bfbf00"]},
      "legend":{"title":null,"orient":"top-right","offset":4,"padding":5,"symbolType":"M-1,0H5.8","symbolSize":100,"symbolStrokeWidth":2,"symbolOffset":2,"labelOffset":27,"rowPadding":2}}
    }}
  ]
 }]
},
{
 "spacing":6,
 "resolve":{"scale":{"color":"independent","strokeDash":"independent","x":"independent","y":"independent"},"legend":{"color":"independent","strokeDash":"independent"}},
 "vconcat":[
 {
  "title":{"text":"(b)","anchor":"start","frame":"bounds","fontSize":24,"fontWeight":"normal","offset":-24,"dx":-19},
  "resolve":{"scale":{"color":"independent","strokeDash":"independent"},"legend":{"color":"independent","strokeDash":"independent"}},
  "vconcat":[{
   "title":{"text":"Phase Improvement for 2D Tri Lattice PhC using Si₃N₄ - PMMI Superstrate","offset":5,"dx":10},
   "width":463,"height":307,
   "layer":[
    {"data":{"name":"circ"},"mark":{"type":"point","shape":"circle","size":30,"filled":false,"color":"#ff0000","strokeWidth":0.8,"opacity":0.55},
     "encoding":{"x":{"field":"d","type":"quantitative","scale":{"domain":[0,300]},"title":"Distance (μm)","axis":{"values":[0,50,100,150,200,250,300]}},"y":{"datum":3.1416,"type":"quantitative","scale":{"domain":[-4,4]},"title":"Phase (radians)","axis":{"values":[-4,-3,-2,-1,0,1,2,3,4],"titlePadding":20}}}},
    {"data":{"name":"circ"},"mark":{"type":"point","shape":"circle","size":30,"filled":false,"color":"#ff0000","strokeWidth":0.8,"opacity":0.55},
     "encoding":{"x":{"field":"d","type":"quantitative","title":"Distance (μm)","axis":{"values":[0,50,100,150,200,250,300]}},"y":{"datum":-3.1416,"type":"quantitative","title":"Phase (radians)","axis":{"values":[-4,-3,-2,-1,0,1,2,3,4],"titlePadding":20}}}},
    {"data":{"name":"pb"},"mark":{"type":"line","strokeWidth":1.6},
     "encoding":{
      "x":{"field":"d","type":"quantitative","title":"Distance (μm)","axis":{"values":[0,50,100,150,200,250,300]}},
      "y":{"field":"p","type":"quantitative","title":"Phase (radians)","axis":{"values":[-4,-3,-2,-1,0,1,2,3,4],"titlePadding":20}},
      "color":{"field":"s","type":"nominal","scale":{"domain":["No PhC","a -- 380nm","a -- 375nm","a -- 370nm","a -- 365nm","a -- 360nm"],"range":["#0000ff","#008000","#ff0000","#00bfbf","#bf00bf","#bfbf00"]},
       "legend":{"title":null,"orient":"top-right","offset":4,"padding":5,"symbolType":"M-1,0H5.8","symbolSize":100,"symbolStrokeWidth":2,"symbolOffset":2,"labelOffset":27,"rowPadding":2}}
     }}
   ]
  }]
 },
 {
  "spacing":3,
  "resolve":{"scale":{"color":"independent","strokeDash":"independent","x":"independent","y":"independent"},"legend":{"color":"independent","strokeDash":"independent"}},
  "vconcat":[
  {
   "title":{"text":"(c)","anchor":"start","frame":"bounds","fontSize":24,"fontWeight":"normal","offset":-24,"dx":-25},
   "resolve":{"scale":{"color":"independent","strokeDash":"independent"},"legend":{"color":"independent","strokeDash":"independent"}},
   "vconcat":[{
    "title":{"text":"Effective EO coefficient for 1D Rect Lattice PhC using Si₃N₄ - PMMI Superstrate","offset":-2,"dx":-3},
    "width":463,"height":343,
    "data":{"name":"pc"},
    "mark":{"type":"line","strokeWidth":1.8},
    "encoding":{
     "x":{"field":"lp","type":"quantitative","scale":{"domain":[290,320]},"title":"Lattice Period (nm)","axis":{"values":[290,295,300,305,310,315,320]}},
     "y":{"field":"r","type":"quantitative","scale":{"domain":[65,105]},"title":"r₃₃ₑff (pm/V)","axis":{"values":[65,70,75,80,85,90,95,100,105],"titlePadding":11}},
     "color":{"field":"s","type":"nominal","scale":{"domain":["r33 with PhC","r33 without PhC"],"range":["#0000ff","#ff0000"]},
      "legend":{"title":null,"orient":"top-left","offset":6,"padding":6,"symbolType":"M-1,0H7","symbolSize":100,"symbolStrokeWidth":1.8,"symbolOffset":0,"labelOffset":31,"rowPadding":4,"labelFontSize":11}},
     "strokeDash":{"field":"s","type":"nominal","scale":{"domain":["r33 with PhC","r33 without PhC"],"range":[[1,0],[1.2,1.2]]},
      "legend":{"title":null,"orient":"top-left","offset":6,"padding":6,"symbolType":"M-1,0H7","symbolSize":100,"symbolStrokeWidth":1.8,"symbolOffset":0,"labelOffset":31,"rowPadding":4,"labelFontSize":11}}
    }
   }]
  },
  {
   "title":{"text":"(d)","anchor":"start","frame":"bounds","fontSize":24,"fontWeight":"normal","offset":-24,"dx":-20},
   "resolve":{"scale":{"color":"independent","strokeDash":"independent"},"legend":{"color":"independent","strokeDash":"independent"}},
   "vconcat":[{
    "title":{"text":"Effective EO coefficient for 2D Tri Lattice PhC using Si₃N₄ - PMMI Superstrate","offset":2,"dx":2},
    "width":463,"height":330,
    "data":{"name":"pd"},
    "mark":{"type":"line","strokeWidth":1.8},
    "encoding":{
     "x":{"field":"lp","type":"quantitative","scale":{"domain":[360,380]},"title":"Lattice Period (nm)","axis":{"values":[360,362,364,366,368,370,372,374,376,378,380]}},
     "y":{"field":"r","type":"quantitative","scale":{"domain":[60,150]},"title":"r₃₃ₑff (pm/V)","axis":{"values":[60,70,80,90,100,110,120,130,140,150],"titlePadding":11}},
     "color":{"field":"s","type":"nominal","scale":{"domain":["r33 with PhC","r33 without PhC"],"range":["#0000ff","#ff0000"]},
      "legend":{"title":null,"orient":"top-left","offset":6,"padding":6,"symbolType":"M-1,0H7","symbolSize":100,"symbolStrokeWidth":1.8,"symbolOffset":0,"labelOffset":31,"rowPadding":4,"labelFontSize":11}},
     "strokeDash":{"field":"s","type":"nominal","scale":{"domain":["r33 with PhC","r33 without PhC"],"range":[[1,0],[1.2,1.2]]},
      "legend":{"title":null,"orient":"top-left","offset":6,"padding":6,"symbolType":"M-1,0H7","symbolSize":100,"symbolStrokeWidth":1.8,"symbolOffset":0,"labelOffset":31,"rowPadding":4,"labelFontSize":11}}
    }
   }]
  }
  ]
 }
 ]
}
]
}
